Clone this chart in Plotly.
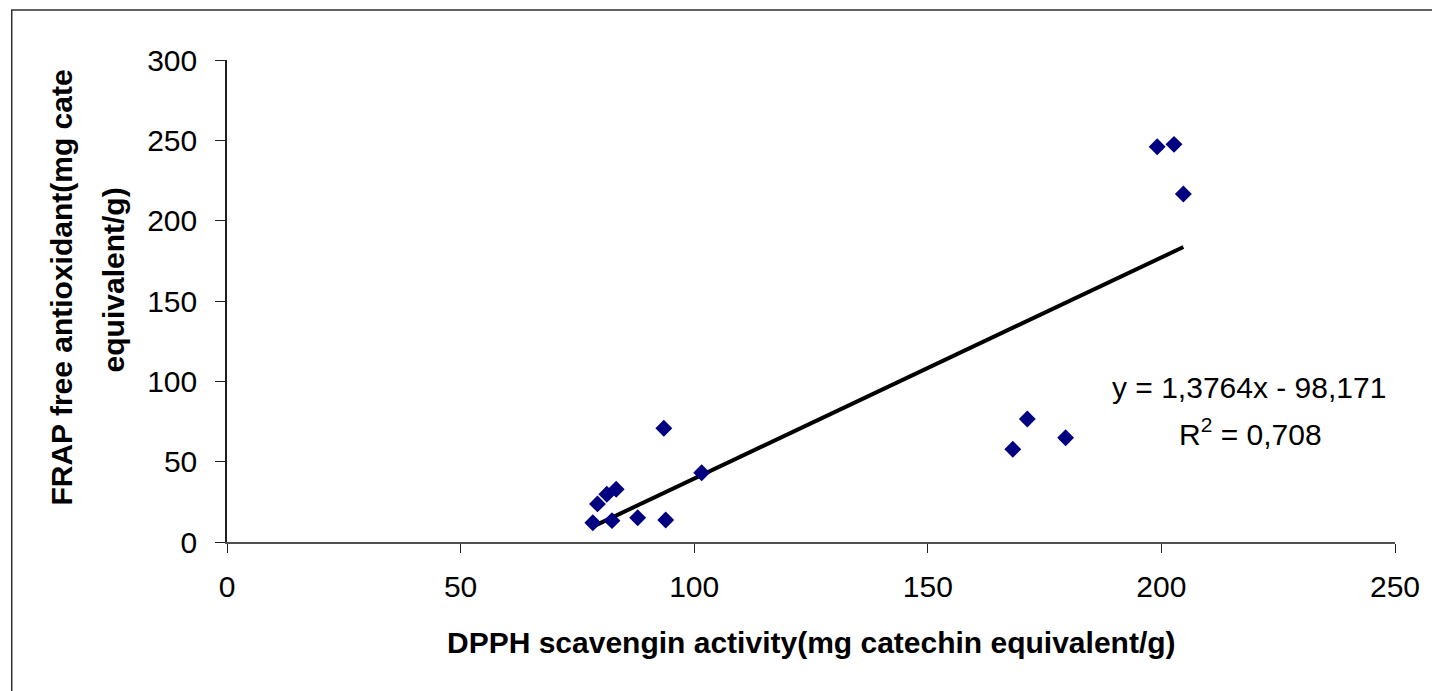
import plotly.graph_objects as go

# Data
dpph = [78.3, 79.3, 81.3, 83.3, 82.4, 87.9, 93.9, 93.5, 101.6,
        168.2, 171.3, 179.5, 199.1, 202.7, 204.7]
frap = [12.0, 23.7, 29.7, 32.8, 13.3, 15.1, 13.7, 70.8, 43.1,
        57.7, 76.6, 64.9, 246.0, 247.5, 216.6]

slope = 1.3764
intercept = -98.171
eq_text = "y = 1,3764x - 98,171"
r2_text = "R<sup>2</sup> = 0,708"

x_ticks = [0, 50, 100, 150, 200, 250]
y_ticks = [0, 50, 100, 150, 200, 250, 300]

x_title = "DPPH scavengin activity(mg catechin equivalent/g)"
y_title_1 = "FRAP free antioxidant(mg cate"
y_title_2 = "equivalent/g)"

FONT = "Liberation Sans, Arial, sans-serif"

x_min, x_max = min(dpph), max(dpph)
trend_x = [x_min, x_max]
trend_y = [slope * v + intercept for v in trend_x]

fig = go.Figure()
fig.add_trace(go.Scatter(
    x=trend_x, y=trend_y, mode="lines",
    line=dict(color="black", width=4), hoverinfo="skip", showlegend=False))
fig.add_trace(go.Scatter(
    x=dpph, y=frap, mode="markers",
    marker=dict(symbol="diamond", size=13, color="#000080",
                line=dict(width=0)),
    showlegend=False))

W, H = 1432, 691
L, R, T, B = 227, 33, 60, 149
pw = W - L - R
ph = H - T - B

def px_x(p):
    return (p - L) / pw

def px_y(p):
    return (H - B - p) / ph

fig.update_layout(
    width=W, height=H,
    margin=dict(l=L, r=R, t=T, b=B, pad=0),
    paper_bgcolor="white", plot_bgcolor="white",
    font=dict(family=FONT, size=30, color="black"),
    xaxis=dict(range=[0, 250], tickvals=x_ticks, showgrid=False,
               zeroline=False, showline=True, linecolor="#505050",
               linewidth=1.5, ticks="outside", ticklen=9, tickwidth=1.2,
               tickcolor="#202020", tickfont=dict(size=30, family=FONT),
               ticklabelstandoff=8),
    yaxis=dict(range=[0, 300], tickvals=y_ticks, showgrid=False,
               zeroline=False, showline=True, linecolor="#202020",
               linewidth=1.5, ticks="outside", ticklen=10, tickwidth=1.2,
               tickcolor="#202020", tickfont=dict(size=30, family=FONT),
               ticklabelstandoff=12),
    shapes=[dict(type="rect", xref="paper", yref="paper",
                 x0=px_x(11), x1=px_x(1445), y0=px_y(705), y1=px_y(10),
                 line=dict(color="#303030", width=1.5), fillcolor="rgba(0,0,0,0)",
                 layer="below")],
    annotations=[
        dict(text=eq_text, xref="paper", yref="paper", x=px_x(1252), y=px_y(387),
             showarrow=False, xanchor="center", yanchor="middle",
             font=dict(size=30, family=FONT, color="black")),
        dict(text=r2_text, xref="paper", yref="paper", x=px_x(1254), y=px_y(432),
             showarrow=False, xanchor="center", yanchor="middle",
             font=dict(size=30, family=FONT, color="black")),
        dict(text="<b>" + x_title + "</b>", xref="paper", yref="paper",
             x=px_x(814), y=px_y(642), showarrow=False,
             xanchor="center", yanchor="middle",
             font=dict(size=30, family=FONT, color="black")),
        dict(text="<b>" + y_title_1 + "</b>", xref="paper", yref="paper",
             x=px_x(60), y=px_y(288), showarrow=False, textangle=-90,
             xanchor="center", yanchor="middle",
             font=dict(size=30, family=FONT, color="black")),
        dict(text="<b>" + y_title_2 + "</b>", xref="paper", yref="paper",
             x=px_x(113), y=px_y(280), showarrow=False, textangle=-90,
             xanchor="center", yanchor="middle",
             font=dict(size=30, family=FONT, color="black")),
    ],
)

fig.write_html("out.html")
